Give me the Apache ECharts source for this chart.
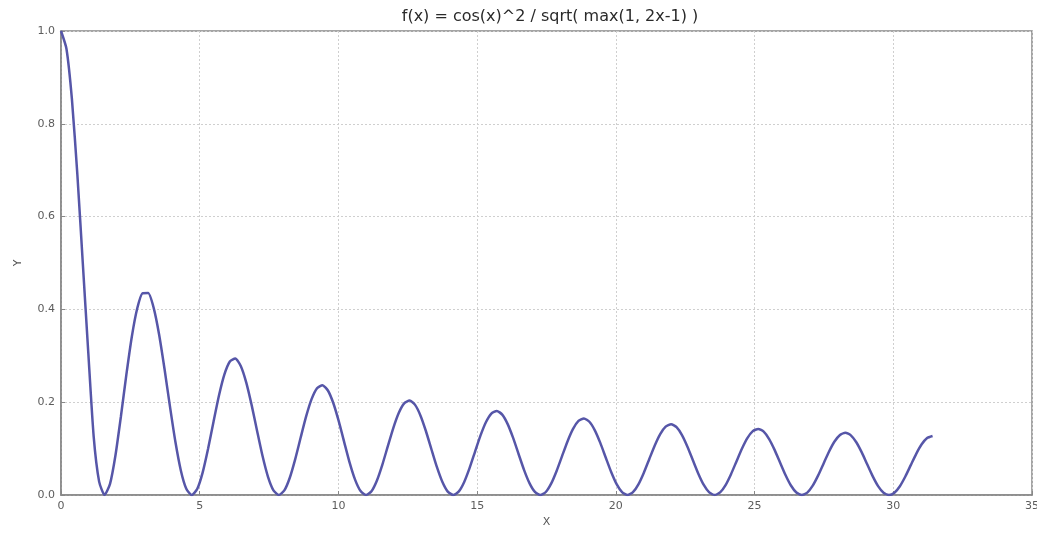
<!DOCTYPE html>
<html>
<head>
<meta charset="utf-8">
<script src="https://cdn.jsdelivr.net/npm/echarts@6/dist/echarts.min.js"></script>
<style>
html,body{margin:0;padding:0;background:#fff;}
#chart{width:1037px;height:535px;}
</style>
</head>
<body>
<div id="chart"></div>
<script>
var xValues = [0,0.1963,0.3927,0.5890,0.7854,0.9817,1.1781,1.3744,1.5708,1.7671,1.9635,2.1598,2.3562,2.5525,2.7489,2.9452,3.1416,3.3379,3.5343,3.7306,3.9270,4.1233,4.3197,4.5160,4.7124,4.9087,5.1051,5.3014,5.4978,5.6941,5.8905,6.0868,6.2832,6.4795,6.6759,6.8722,7.0686,7.2649,7.4613,7.6576,7.8540,8.0503,8.2467,8.4430,8.6394,8.8357,9.0321,9.2284,9.4248,9.6211,9.8175,10.0138,10.2102,10.4065,10.6029,10.7992,10.9956,11.1919,11.3883,11.5846,11.7810,11.9773,12.1737,12.3700,12.5664,12.7627,12.9591,13.1554,13.3518,13.5481,13.7445,13.9408,14.1372,14.3335,14.5299,14.7262,14.9226,15.1189,15.3153,15.5116,15.7080,15.9043,16.1007,16.2970,16.4934,16.6897,16.8861,17.0824,17.2788,17.4751,17.6715,17.8678,18.0642,18.2605,18.4569,18.6532,18.8496,19.0459,19.2423,19.4386,19.6350,19.8313,20.0277,20.2240,20.4204,20.6167,20.8131,21.0094,21.2058,21.4021,21.5985,21.7948,21.9911,22.1875,22.3838,22.5802,22.7765,22.9729,23.1692,23.3656,23.5619,23.7583,23.9546,24.1510,24.3473,24.5437,24.7400,24.9364,25.1327,25.3291,25.5254,25.7218,25.9181,26.1145,26.3108,26.5072,26.7035,26.8999,27.0962,27.2926,27.4889,27.6853,27.8816,28.0780,28.2743,28.4707,28.6670,28.8634,29.0597,29.2561,29.4524,29.6488,29.8451,30.0415,30.2378,30.4342,30.6305,30.8269,31.0232,31.2196,31.4159];
var yValues = [1,0.9619,0.8536,0.6913,0.5,0.3087,0.1258,0.0288,0,0.0239,0.0856,0.1694,0.2595,0.3412,0.4025,0.4350,0.4351,0.4038,0.3465,0.2720,0.1910,0.1147,0.0530,0.0134,0,0.0128,0.0483,0.0996,0.1581,0.2145,0.2600,0.2878,0.2940,0.2782,0.2429,0.1937,0.1380,0.0839,0.0392,0.0101,0,0.0098,0.0372,0.0774,0.1239,0.1693,0.2066,0.2302,0.2367,0.2252,0.1977,0.1585,0.1135,0.0693,0.0326,0.0084,0,0.0082,0.0314,0.0656,0.1053,0.1443,0.1767,0.1974,0.2036,0.1942,0.1710,0.1374,0.0986,0.0604,0.0285,0.0073,0,0.0072,0.0276,0.0579,0.0931,0.1279,0.1568,0.1756,0.1813,0.1733,0.1528,0.1230,0.0884,0.0542,0.0256,0.0066,0,0.0065,0.0250,0.0524,0.0844,0.1160,0.1424,0.1596,0.1651,0.1579,0.1394,0.1123,0.0808,0.0496,0.0234,0.0061,0,0.0060,0.0230,0.0482,0.0777,0.1069,0.1314,0.1474,0.1525,0.1461,0.1290,0.1040,0.0749,0.0460,0.0217,0.0056,0,0.0056,0.0214,0.0449,0.0724,0.0997,0.1226,0.1376,0.1425,0.1365,0.1206,0.0973,0.0701,0.0431,0.0204,0.0053,0,0.0052,0.0201,0.0422,0.0681,0.0938,0.1153,0.1295,0.1342,0.1286,0.1137,0.0918,0.0662,0.0407,0.0192,0.0050,0,0.0050,0.0190,0.0399,0.0644,0.0888,0.1092,0.1227,0.1272];
var titleText = 'f(x) = cos(x)^2 / sqrt( max(1, 2x-1) )';
var xName = 'X';
var yName = 'Y';

var data = xValues.map(function(x, i){ return [x, yValues[i]]; });
var chart = echarts.init(document.getElementById('chart'), null, {renderer:'canvas'});
var font = 'DejaVu Sans';
chart.setOption({
  animation: false,
  backgroundColor: '#fff',
  title: {
    text: titleText, left: 545, top: 4, textAlign: 'center',
    textStyle: {fontFamily: font, fontSize: 16, fontWeight: 'normal', color: '#2a2a2a'}
  },
  grid: {left: 61, right: 5, top: 31, bottom: 40, show: true, borderColor: '#888', borderWidth: 1.5,
         outerBoundsMode: 'none', containLabel: false},
  xAxis: {
    type: 'value', min: 0, max: 35, interval: 5,
    name: xName, nameLocation: 'middle', nameGap: 22,
    nameTextStyle: {fontFamily: font, fontSize: 11, color: '#555'},
    axisLine: {show: true, lineStyle: {color: '#888', width: 1.5}},
    axisTick: {show: true, inside: true, length: 4, lineStyle: {color: '#888'}},
    axisLabel: {fontFamily: font, fontSize: 11, color: '#5c5c5c', margin: 6},
    splitLine: {show: true, lineStyle: {color: '#cfcfcf', type: [2, 2], width: 1}}
  },
  yAxis: {
    type: 'value', min: 0, max: 1, interval: 0.2,
    name: yName, nameLocation: 'middle', nameGap: 37, nameRotate: 90,
    nameTextStyle: {fontFamily: font, fontSize: 11, color: '#555'},
    axisLine: {show: true, lineStyle: {color: '#888', width: 1.5}},
    axisTick: {show: true, inside: true, length: 4, lineStyle: {color: '#888'}},
    axisLabel: {fontFamily: font, fontSize: 11, color: '#5c5c5c', margin: 6,
      formatter: function(v){ return v.toFixed(1); }},
    splitLine: {show: true, lineStyle: {color: '#cfcfcf', type: [2, 2], width: 1}}
  },
  series: [{
    type: 'line', data: data, smooth: 0.2, showSymbol: false,
    lineStyle: {color: '#5656a8', width: 2.5}
  }]
});
</script>
</body>
</html>
